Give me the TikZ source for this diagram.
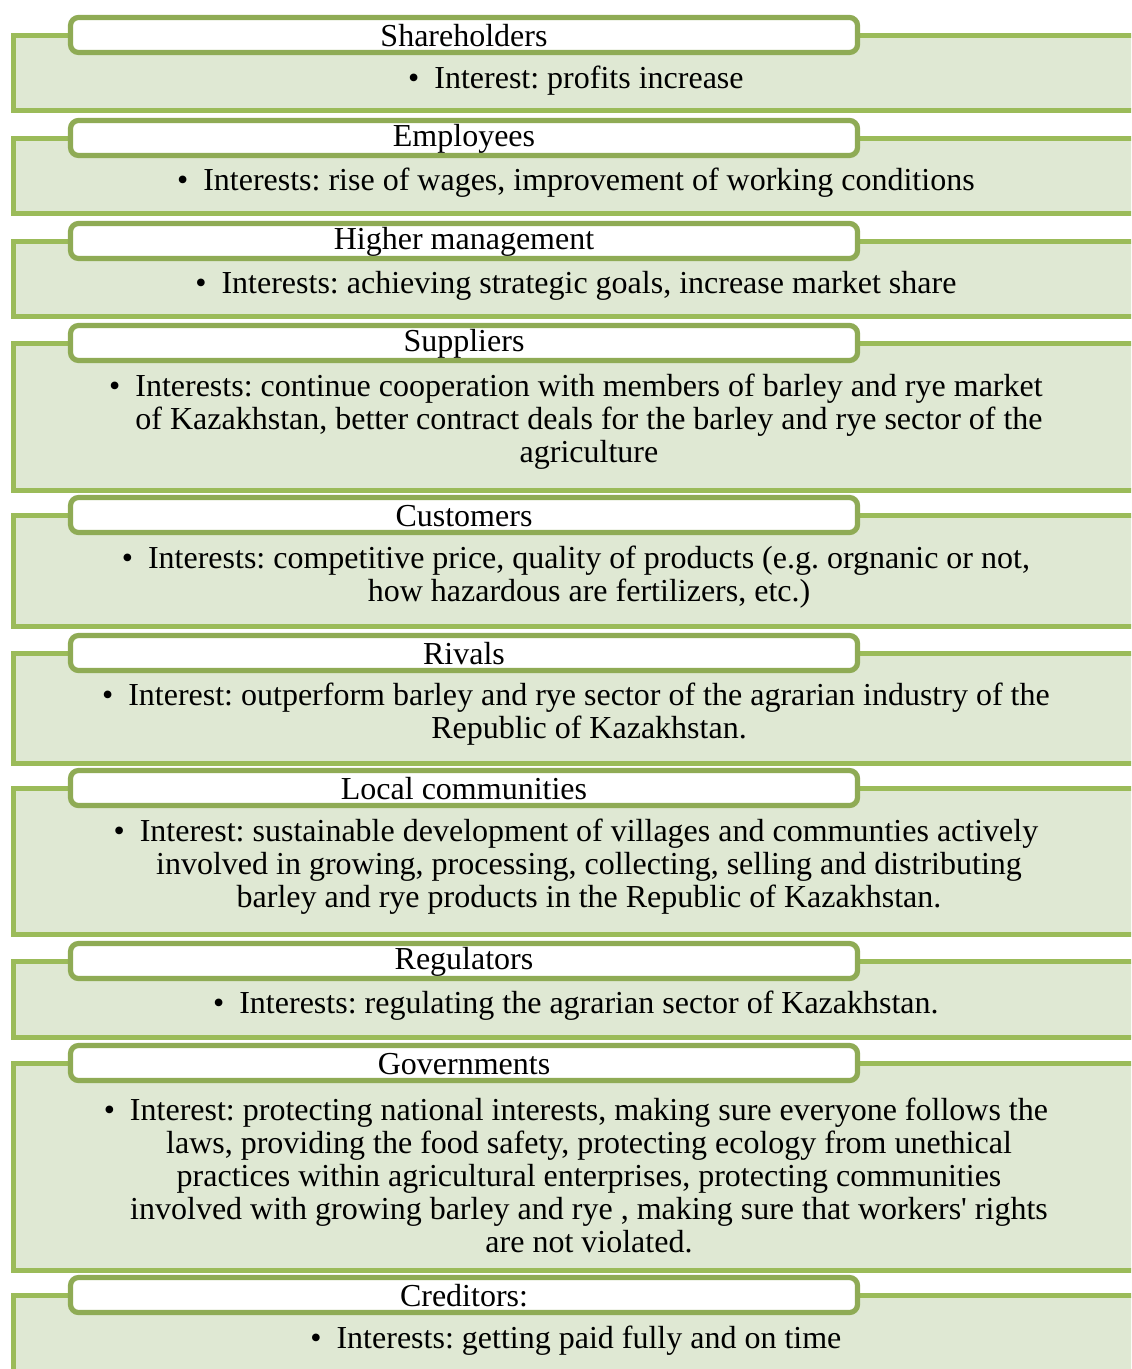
\documentclass[tikz,border=0pt]{standalone}
\usepackage{fontspec}
\setmainfont{Liberation Serif}
\usetikzlibrary{fit}
\definecolor{panelfill}{HTML}{DFE8D3}
\definecolor{panelline}{HTML}{9BBB59}
\definecolor{headline}{HTML}{8FAB55}
\tikzset{
  panel/.style={rectangle, draw=panelline, line width=2.5pt, fill=panelfill, inner sep=0pt},
  head/.style={rectangle, rounded corners=4pt, draw=headline, line width=2.6pt,
    fill=white, inner sep=0pt},
  headtx/.style={inner sep=0pt, yshift=-0.5pt, font=\fontsize{16}{16.5}\selectfont},
  interest/.style={align=center, inner sep=0pt, yshift=-1.5pt, font=\fontsize{16}{16.5}\selectfont},
}
\newcommand{\bul}{\llap{\textbullet\hspace{7.5pt}}}
\frenchspacing

\begin{document}
\begin{tikzpicture}[x=0.5pt, y=-0.5pt]
  \useasboundingbox (0,0) rectangle (1131,1369);
  \clip (0,0) rectangle (1131,1369);
  % shareholders
  \node[panel, fit={(13,35.5) (1160,110.5)}] (sharebox) {};
  \node[head, fit={(70.5,17.5) (857.5,52.5)}] (sharehd) {};
  \node[headtx] (sharename) at (sharehd) {Shareholders};
  \node[interest] (sharetx) at (589,78) {\bul Interest: profits increase};
  % employees
  \node[panel, fit={(13,138.5) (1160,213.5)}] (empbox) {};
  \node[head, fit={(70.5,120.5) (857.5,155.5)}] (emphd) {};
  \node[headtx] (empname) at (emphd) {Employees};
  \node[interest] (emptx) at (589,180) {\bul Interests: rise of wages, improvement of working conditions};
  % higher management
  \node[panel, fit={(13,241.5) (1160,316.5)}] (mgmtbox) {};
  \node[head, fit={(70.5,223.5) (857.5,258.5)}] (mgmthd) {};
  \node[headtx] (mgmtname) at (mgmthd) {Higher management};
  \node[interest] (mgmttx) at (589,283) {\bul Interests: achieving strategic goals, increase market share};
  % suppliers
  \node[panel, fit={(13,343.5) (1160,490.5)}] (suppbox) {};
  \node[head, fit={(70.5,325.5) (857.5,360.5)}] (supphd) {};
  \node[headtx] (suppname) at (supphd) {Suppliers};
  \node[interest] (supptx) at (589,419) {\bul Interests: continue cooperation with members of barley and rye market\\
    of Kazakhstan, better contract deals for the barley and rye sector of the\\agriculture};
  % customers
  \node[panel, fit={(13,515.5) (1160,626.5)}] (custbox) {};
  \node[head, fit={(70.5,497.5) (857.5,532.5)}] (custhd) {};
  \node[headtx] (custname) at (custhd) {Customers};
  \node[interest] (custtx) at (589,574.5) {\bul Interests: competitive price, quality of products (e.g. orgnanic or not,\\
    how hazardous are fertilizers, etc.)};
  % rivals
  \node[panel, fit={(13,653.5) (1160,763.5)}] (rivbox) {};
  \node[head, fit={(70.5,635.5) (857.5,670.5)}] (rivhd) {};
  \node[headtx] (rivname) at (rivhd) {Rivals};
  \node[interest] (rivtx) at (589,711.5) {\bul Interest: outperform barley and rye sector of the agrarian industry of the\\
    Republic of Kazakhstan.};
  % local communities
  \node[panel, fit={(13,788.5) (1160,934.5)}] (localbox) {};
  \node[head, fit={(70.5,770.5) (857.5,805.5)}] (localhd) {};
  \node[headtx] (localname) at (localhd) {Local communities};
  \node[interest] (localtx) at (589,864) {\bul Interest: sustainable development of villages and communties actively\\
    involved in growing, processing, collecting, selling and distributing\\
    barley and rye products in the Republic of Kazakhstan.};
  % regulators
  \node[panel, fit={(13,961.5) (1160,1037.5)}] (regbox) {};
  \node[head, fit={(70.5,943.5) (857.5,978.5)}] (reghd) {};
  \node[headtx] (regname) at (reghd) {Regulators};
  \node[interest] (regtx) at (589,1003) {\bul Interests: regulating the agrarian sector of Kazakhstan.};
  % governments
  \node[panel, fit={(13,1063.5) (1160,1270.5)}] (govbox) {};
  \node[head, fit={(70.5,1045.5) (857.5,1080.5)}] (govhd) {};
  \node[headtx] (govname) at (govhd) {Governments};
  \node[interest] (govtx) at (589,1172) {\bul Interest: protecting national interests, making sure everyone follows the\\
    laws, providing the food safety, protecting ecology from unethical\\
    practices within agricultural enterprises, protecting communities\\
    involved with growing barley and rye , making sure that workers\textquotesingle{} rights\\
    are not violated.};
  % creditors
  \node[panel, fit={(13,1295.5) (1160,1400)}] (credbox) {};
  \node[head, fit={(70.5,1277.5) (857.5,1312.5)}] (credhd) {};
  \node[headtx] (credname) at (credhd) {Creditors:};
  \node[interest] (credtx) at (589,1338) {\bul Interests: getting paid fully and on time};
\end{tikzpicture}
\end{document}
